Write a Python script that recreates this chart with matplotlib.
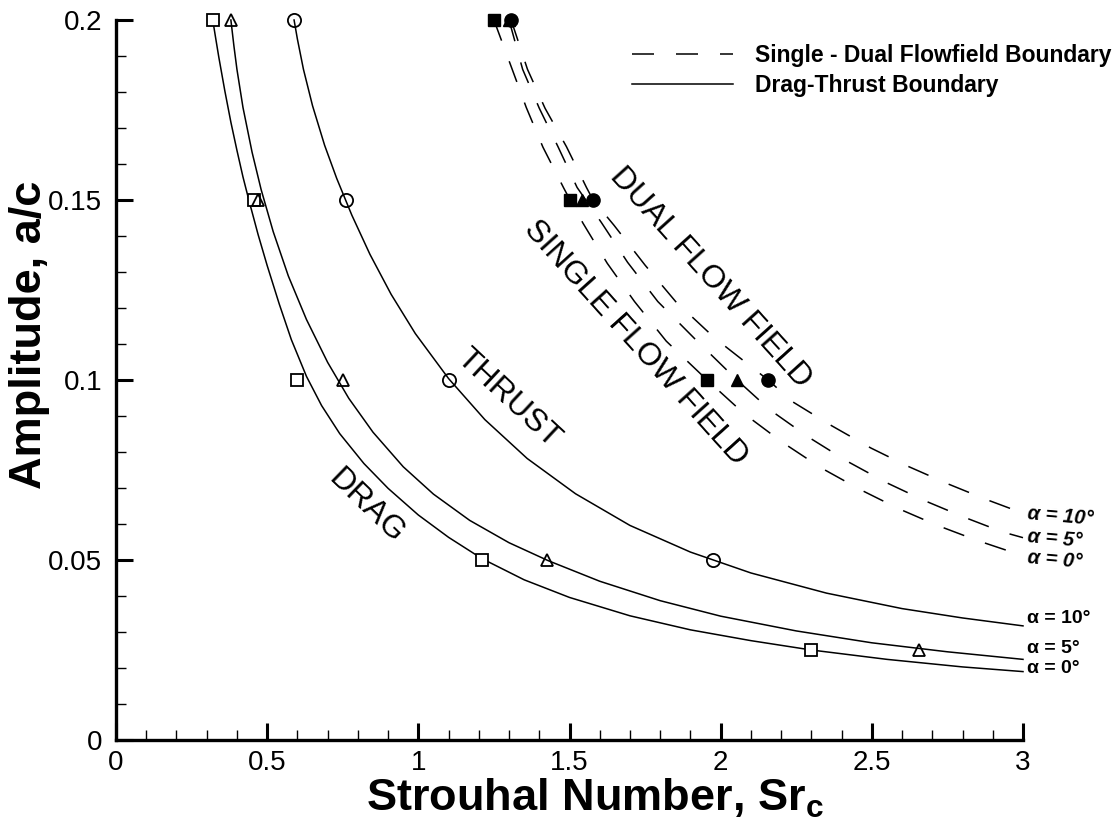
import matplotlib
matplotlib.use("Agg")
import matplotlib.pyplot as plt
from matplotlib.lines import Line2D
from matplotlib.ticker import MultipleLocator

plt.rcParams["font.family"] = ["Liberation Sans", "DejaVu Sans"]
plt.rcParams["mathtext.fontset"] = "custom"
plt.rcParams["mathtext.rm"] = "Liberation Sans"
plt.rcParams["mathtext.bf"] = "Liberation Sans:bold"

# ---------------- data ----------------
# Drag-thrust boundary curves (Strouhal number vs amplitude)
dt0_sr = [0.32, 0.33, 0.34, 0.36, 0.38, 0.40, 0.42, 0.44, 0.47, 0.50, 0.54, 0.58, 0.63, 0.68, 0.74, 0.82,
          0.90, 1.00, 1.10, 1.21, 1.35, 1.50, 1.70, 1.90, 2.10, 2.30, 2.55, 2.80, 3.00]
dt0_a = [0.2000, 0.1948, 0.1897, 0.1803, 0.1716, 0.1638, 0.1564, 0.1498, 0.1404, 0.1318, 0.1211, 0.1112,
         0.1010, 0.0929, 0.0851, 0.0768, 0.0699, 0.0625, 0.0563, 0.0504, 0.0445, 0.0396, 0.0345, 0.0306,
         0.0276, 0.0250, 0.0224, 0.0203, 0.0190]

dt5_sr = [0.38, 0.39, 0.40, 0.42, 0.45, 0.48, 0.52, 0.57, 0.63, 0.70, 0.77, 0.85, 0.95, 1.05, 1.17, 1.30,
          1.43, 1.60, 1.80, 2.00, 2.25, 2.50, 2.75, 3.00]
dt5_a = [0.2000, 0.1928, 0.1863, 0.1757, 0.1633, 0.1529, 0.1412, 0.1289, 0.1168, 0.1049, 0.0949, 0.0855,
         0.0759, 0.0683, 0.0610, 0.0548, 0.0498, 0.0441, 0.0387, 0.0344, 0.0303, 0.0270, 0.0245, 0.0224]

dt10_sr = [0.589, 0.60, 0.62, 0.65, 0.69, 0.73, 0.78, 0.84, 0.91, 0.99, 1.10, 1.22, 1.36, 1.52, 1.70, 1.90,
           2.10, 2.35, 2.60, 2.80, 3.00]
dt10_a = [0.2000, 0.1947, 0.1863, 0.1762, 0.1652, 0.1560, 0.1458, 0.1349, 0.1238, 0.1129, 0.1004, 0.0890,
          0.0782, 0.0684, 0.0596, 0.0522, 0.0464, 0.0408, 0.0365, 0.0339, 0.0317]

# Single-dual flowfield boundary curves
sd0_sr = [1.25, 1.310, 1.357, 1.412, 1.481, 1.502, 1.545, 1.625, 1.715, 1.820, 1.955, 2.078, 2.204, 2.332,
          2.463, 2.590, 2.717, 2.846, 2.974, 3.00]
sd0_a = [0.200, 0.1864, 0.1757, 0.1647, 0.1533, 0.150, 0.1435, 0.1324, 0.1218, 0.1108, 0.100, 0.0906, 0.0827,
         0.0756, 0.0695, 0.0642, 0.0596, 0.0555, 0.0519, 0.0512]

sd5_sr = [1.30, 1.345, 1.400, 1.462, 1.525, 1.605, 1.692, 1.792, 1.915, 2.054, 2.163, 2.291, 2.419, 2.548,
          2.677, 2.805, 2.932, 3.00]
sd5_a = [0.200, 0.1863, 0.1755, 0.1648, 0.1535, 0.1438, 0.1327, 0.1218, 0.1114, 0.100, 0.0917, 0.0841, 0.0774,
         0.0715, 0.0664, 0.0619, 0.0578, 0.0562]

sd10_sr = [1.307, 1.361, 1.419, 1.490, 1.556, 1.578, 1.647, 1.750, 1.851, 1.981, 2.157, 2.237, 2.367, 2.497,
           2.623, 2.753, 2.882, 3.00]
sd10_a = [0.200, 0.1863, 0.1755, 0.1648, 0.1535, 0.150, 0.143, 0.1319, 0.1218, 0.1116, 0.100, 0.094, 0.0873,
          0.0811, 0.0759, 0.0711, 0.0667, 0.063]

# Computed cases (open: drag-thrust, filled: single-dual)
sq_open_sr = [0.32, 0.457, 0.60, 1.21, 2.30]
sq_open_a = [0.2, 0.15, 0.1, 0.05, 0.025]
tri_open_sr = [0.38, 0.47, 0.75, 1.425, 2.655]
tri_open_a = [0.2, 0.15, 0.1, 0.05, 0.025]
cir_open_sr = [0.589, 0.761, 1.10, 1.975]
cir_open_a = [0.2, 0.15, 0.1, 0.05]

sq_fill_sr = [1.25, 1.502, 1.955]
sq_fill_a = [0.2, 0.15, 0.1]
tri_fill_sr = [1.30, 1.54, 2.054]
tri_fill_a = [0.2, 0.15, 0.1]
cir_fill_sr = [1.307, 1.578, 2.157]
cir_fill_a = [0.2, 0.15, 0.1]

x_ticks = [0, 0.5, 1, 1.5, 2, 2.5, 3]
x_tick_labels = ["0", "0.5", "1", "1.5", "2", "2.5", "3"]
y_ticks = [0, 0.05, 0.1, 0.15, 0.2]
y_tick_labels = ["0", "0.05", "0.1", "0.15", "0.2"]

alpha_labels = ["\u03b1 = 0\u00b0", "\u03b1 = 5\u00b0", "\u03b1 = 10\u00b0"]

# ---------------- figure ----------------
fig = plt.figure(figsize=(11.18, 8.22), dpi=100)
ax = fig.add_axes([116 / 1118, 82 / 822, 907 / 1118, 720 / 822])

dash = (0, (14.4, 14.4))
lw = 1.1

solid_curves = [(dt0_sr, dt0_a), (dt5_sr, dt5_a), (dt10_sr, dt10_a)]
dashed_curves = [(sd0_sr, sd0_a), (sd5_sr, sd5_a), (sd10_sr, sd10_a)]

for sr, a in solid_curves:
    ax.plot(sr, a, color="black", lw=lw, solid_joinstyle="round", clip_on=False, zorder=2)
for sr, a in dashed_curves:
    ax.plot(sr, a, color="black", lw=lw, linestyle=dash, clip_on=False, zorder=2)

mk = dict(linestyle="none", color="black", clip_on=False, zorder=4)
ax.plot(sq_open_sr, sq_open_a, marker="s", ms=8, mfc="white", mec="black", mew=1.3, **mk)
ax.plot(tri_open_sr, tri_open_a, marker="^", ms=9, mfc="none", mec="black", mew=1.3, **mk)
ax.plot(cir_open_sr, cir_open_a, marker="o", ms=9.5, mfc="none", mec="black", mew=1.3, **mk)
ax.plot(tri_fill_sr, tri_fill_a, marker="^", ms=8, mfc="black", mec="black", **mk)
ax.plot(sq_fill_sr, sq_fill_a, marker="s", ms=8, mfc="black", mec="black", **mk)
ax.plot(cir_fill_sr, cir_fill_a, marker="o", ms=9.5, mfc="black", mec="black", **mk)

# curve end labels
solid_offsets = [2, 8, 5]
for (sr, a), lab, off in zip(solid_curves, alpha_labels, solid_offsets):
    ax.annotate(lab, xy=(sr[-1], a[-1]), xytext=(3, off), textcoords="offset points",
                ha="left", va="center", fontsize=14, fontweight="bold", annotation_clip=False)
dashed_offsets = [-1, 1, 0]
for (sr, a), lab, off in zip(dashed_curves, alpha_labels, dashed_offsets):
    ax.annotate(lab, xy=(sr[-1], a[-1]), xytext=(3, off), textcoords="offset points",
                ha="left", va="center", fontsize=14.5, fontweight="bold", style="italic",
                rotation=-5, rotation_mode="anchor", annotation_clip=False)

# region annotations
region_kw = dict(ha="center", va="center", fontsize=23, rotation_mode="anchor")
ax.text(0.826, 0.0650, "DRAG", rotation=-44, **region_kw)
ax.text(1.297, 0.0950, "THRUST", rotation=-43, **region_kw)
ax.text(1.965, 0.1283, "DUAL FLOW FIELD", rotation=-48, **region_kw)
ax.text(1.717, 0.1103, "SINGLE FLOW FIELD", rotation=-48, **region_kw)

# axes
ax.set_xlim(0, 3)
ax.set_ylim(0, 0.2)
ax.set_xticks(x_ticks)
ax.set_xticklabels(x_tick_labels)
ax.set_yticks(y_ticks)
ax.set_yticklabels(y_tick_labels)
ax.xaxis.set_minor_locator(MultipleLocator(0.1))
ax.yaxis.set_minor_locator(MultipleLocator(0.01))
ax.tick_params(which="major", direction="in", length=12, width=2.2, labelsize=20, colors="black")
ax.tick_params(which="minor", direction="in", length=7, width=1.0)
ax.tick_params(axis="x", which="major", pad=7)
ax.tick_params(axis="y", which="major", pad=10)
for s in ("top", "right"):
    ax.spines[s].set_visible(False)
for s in ("left", "bottom"):
    ax.spines[s].set_linewidth(2.4)

fig.text(595 / 1118, (822 - 811) / 822, r"Strouhal Number, Sr$_\mathbf{c}$",
         ha="center", va="baseline", fontsize=32.5, fontweight="bold")
fig.text(30 / 1118, (822 - 335) / 822, "Amplitude, a/c", rotation=90,
         ha="center", va="center", fontsize=32.5, fontweight="bold")

handles = [Line2D([], [], color="black", lw=lw, linestyle=dash),
           Line2D([], [], color="black", lw=lw)]
ax.legend(handles, ["Single - Dual Flowfield Boundary", "Drag-Thrust Boundary"],
          loc="upper left", bbox_to_anchor=(0.569, 0.966), frameon=False,
          handlelength=4.4, handletextpad=0.95, labelspacing=0.28, borderpad=0,
          borderaxespad=0, prop=dict(size=16.5, weight="bold"))

fig.savefig("out.png", dpi=100)
